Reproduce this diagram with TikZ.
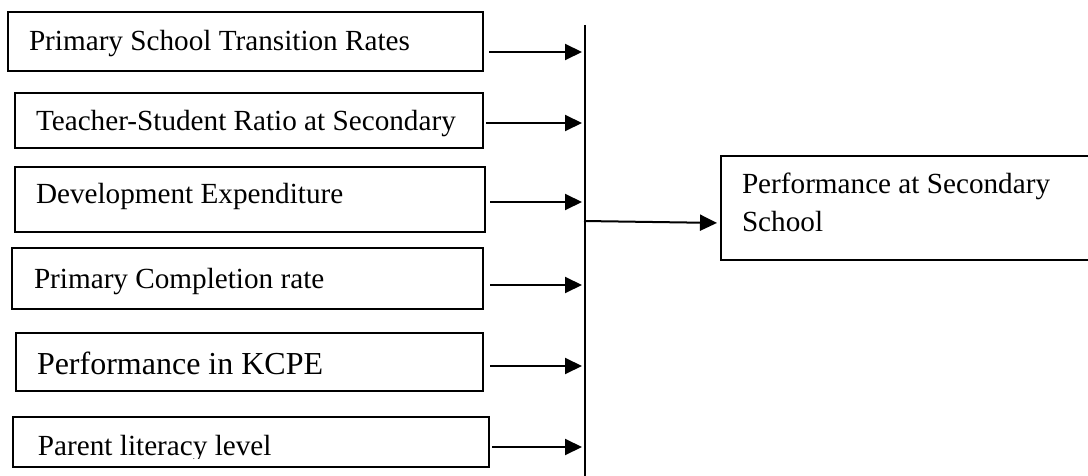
\documentclass[tikz,border=0pt]{standalone}
\usepackage{fontspec}
\setmainfont{Liberation Serif}
\usepackage{tikz}
\usetikzlibrary{arrows.meta,positioning,calc,fit}

\begin{document}
\begin{tikzpicture}[
    x=0.5pt, y=-0.5pt,
    box/.style={rectangle, draw, line width=0.8pt, inner sep=0pt, outer sep=0pt},
    txt/.style={inner sep=0pt, outer sep=0pt, anchor=base west, font=\fontsize{14.6}{19.5}\selectfont},
    arrow/.style={-{Triangle[length=8.5pt,width=8pt]}, line width=1pt},
    bus/.style={line width=0.7pt}
]

% Page frame
\useasboundingbox (0,0) rectangle (1088,476);
\clip (0,0) rectangle (1088,476);

% Factor boxes
\node[box, fit={(8,12) (483,71)}] (b-trans) {};
\node[box, fit={(15,93) (483,148)}] (b-ratio) {};
\node[box, fit={(15,167) (485,232)}] (b-dev) {};
\node[box, fit={(12,248) (483,309)}] (b-compl) {};
\node[box, fit={(16,333) (483,391)}] (b-kcpe) {};
\node[box, fit={(13,417) (489,467)}] (b-parent) {};

% Factor texts
\node[txt] (t-trans) at (29,51) {Primary School Transition Rates};
\node[txt] (t-ratio) at (36,131) {Teacher-Student Ratio at Secondary};
\node[txt] (t-dev) at (36,204) {Development Expenditure};
\node[txt] (t-compl) at (34,288) {Primary Completion rate};
\node[txt, font=\fontsize{16}{19.5}\selectfont] (t-kcpe) at (37,374) {Performance in KCPE};
\begin{scope}
\clip (0,0) rectangle (1088,458);
\node[txt] (t-parent) at (38,455) {Parent literacy level};
\end{scope}

% Outcome box
\node[box, fit={(721,156) (1110,260)}] (b-out) {};
\node[txt, align=left] (t-out) at (742,232) {Performance at Secondary\\School};

% Bus line
\coordinate (bus-top) at (585,25);
\coordinate (bus-bot) at (585,476);
\draw[bus] (bus-top) -- (bus-bot);

% Arrows - factors to bus
\coordinate (h-trans) at (582,52);
\coordinate (h-ratio) at (582,123);
\coordinate (h-dev) at (582,202);
\coordinate (h-compl) at (582,285);
\coordinate (h-kcpe) at (582,366);
\coordinate (h-parent) at (582,447);
\draw[arrow, shorten <=3pt] (b-trans.east |- h-trans) -- (h-trans);
\draw[arrow, shorten <=1.5pt] (b-ratio.east |- h-ratio) -- (h-ratio);
\draw[arrow, shorten <=2.5pt] (b-dev.east |- h-dev) -- (h-dev);
\draw[arrow, shorten <=3.5pt] (b-compl.east |- h-compl) -- (h-compl);
\draw[arrow, shorten <=3.5pt] (b-kcpe.east |- h-kcpe) -- (h-kcpe);
\draw[arrow, shorten <=1.5pt] (b-parent.east |- h-parent) -- (h-parent);

% Arrow - bus to outcome
\coordinate (tap) at (584,221);
\draw[arrow, shorten >=2pt] (tap) -- ($(b-out.west)+(0,15)$);

\end{tikzpicture}
\end{document}
